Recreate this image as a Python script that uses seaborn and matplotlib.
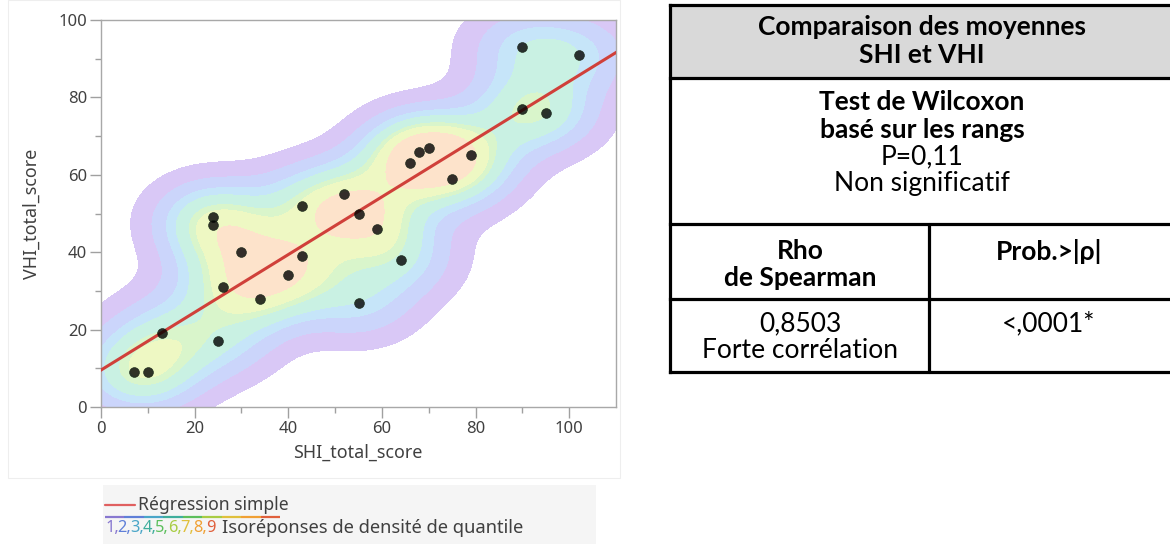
import numpy as np
import pandas as pd
import matplotlib
matplotlib.use("Agg")
import matplotlib.pyplot as plt
from matplotlib.patches import Rectangle
from matplotlib.lines import Line2D
from matplotlib.colors import ListedColormap
import seaborn as sns
import seaborn._statistics as sstat

# ---------------- data ----------------
shi_total = [7, 10, 13, 25, 24, 24, 26, 30, 34, 40, 43, 43, 52, 55, 55, 59, 64,
             66, 68, 70, 75, 79, 90, 90, 95, 102]
vhi_total = [9, 9, 19, 17, 49, 47, 31, 40, 28, 34, 52, 39, 55, 50, 27, 46, 38,
             63, 66, 67, 59, 65, 93, 77, 76, 91]
x_ticks = [0, 20, 40, 60, 80, 100]
y_ticks = [0, 20, 40, 60, 80, 100]
density_levels = [0.03, 0.1, 0.2, 0.3, 0.4, 0.5, 0.6, 0.7, 0.8, 1.0]
legend_digits = ["1", "2", "3", "4", "5", "6", "7", "8", "9"]

table_header = ["Comparaison des moyennes", "SHI et VHI"]
table_test = ["Test de Wilcoxon", "basé sur les rangs"]
table_p = ["P=0,11", "Non significatif"]
table_rho_head = ["Rho", "de Spearman"]
table_prob_head = ["Prob.>|ρ|"]
table_rho_val = ["0,8503", "Forte corrélation"]
table_prob_val = ["<,0001*"]

df = pd.DataFrame({"SHI_total_score": shi_total, "VHI_total_score": vhi_total})


# product-kernel (axis aligned) density, like JMP's nonparametric density
class DiagKDE(sstat.gaussian_kde):
    def _compute_covariance(self):
        super()._compute_covariance()
        cov = np.atleast_2d(self.covariance)
        cov = np.diag(np.diag(cov))
        self.covariance = cov
        for name, val in [("cho_cov", np.linalg.cholesky(cov)),
                          ("_norm_factor", np.sqrt(np.linalg.det(2 * np.pi * cov)))]:
            try:
                setattr(self, name, val)
            except Exception:
                pass
        try:
            self.log_det = 2 * np.log(np.diag(np.linalg.cholesky(cov) * np.sqrt(2 * np.pi))).sum()
        except Exception:
            pass
        try:
            self.inv_cov = np.linalg.inv(cov)
        except Exception:
            pass


sstat.gaussian_kde = DiagKDE

# ---------------- figure ----------------
sns.set_theme(style="white")
plt.rcParams['font.family'] = ['Noto Sans', 'DejaVu Sans']

W, H = 1170, 544
fig = plt.figure(figsize=(W / 100, H / 100), dpi=100)
renderer = fig.canvas.get_renderer()


def fx(px):
    return px / W


def fy(py):
    return 1 - py / H


def fit_width(t, target):
    bb = t.get_window_extent(renderer)
    t.set_fontsize(t.get_fontsize() * target / bb.width)
    return t.get_fontsize()


# faint panel frame
fig.patches.append(Rectangle((fx(8), fy(478)), fx(620) - fx(8), fy(0) - fy(478),
                             transform=fig.transFigure, facecolor="none",
                             edgecolor="#eeeeee", lw=0.8))

ax = fig.add_axes([fx(101), fy(407), fx(616) - fx(101), fy(20) - fy(407)])

band_colors = ["#d9c8f6", "#cbd5fb", "#c6e5f9", "#c9f1e3", "#d9f5cb",
               "#eef8c3", "#fcf3c6", "#fde3cb", "#fcd3d6"]
n_before = len(ax.collections)
sns.kdeplot(data=df, x="SHI_total_score", y="VHI_total_score", fill=True,
            levels=density_levels, cmap=ListedColormap(band_colors), bw_adjust=0.52,
            cut=6, gridsize=250, ax=ax)
for coll in ax.collections[n_before:]:
    try:
        coll.set_facecolor(band_colors)
        coll.set_edgecolor("face")
        coll.set_linewidth(0.6)
    except Exception:
        pass
sns.regplot(data=df, x="SHI_total_score", y="VHI_total_score", ci=None,
            truncate=False, ax=ax,
            scatter_kws=dict(color="black", s=50, edgecolor="#102010", linewidths=0.5, zorder=5),
            line_kws=dict(color="#d0403a", lw=2.2, zorder=4))

ax.set_xlim(0, 110)
ax.set_ylim(0, 100)
ax.set_xticks(x_ticks)
ax.set_yticks(y_ticks)
ax.set_xticks(np.arange(10, 110, 20), minor=True)
ax.set_yticks(np.arange(10, 100, 20), minor=True)
ax.tick_params(axis="both", which="major", direction="out", length=8, width=1,
               color="#a0a0a0", labelsize=12, labelcolor="#404040", pad=2,
               bottom=True, left=True)
ax.tick_params(axis="both", which="minor", direction="out", length=4, width=1,
               color="#a0a0a0", bottom=True, left=True)
for s in ax.spines.values():
    s.set_color("#a8a8a8")
    s.set_linewidth(1)
ax.set_xlabel("")
ax.set_ylabel("")
ax.set_facecolor("white")
xl = fig.text(fx(358), fy(453), "SHI_total_score", color="#404040", fontsize=12,
              ha="center", va="center")
fit_width(xl, 129)
yl = fig.text(fx(32), fy(214), "VHI_total_score", color="#404040", fontsize=12,
              ha="center", va="center", rotation=90)
yl.set_fontsize(xl.get_fontsize())

# ---------------- legend ----------------
fig.patches.append(Rectangle((fx(103), fy(544)), fx(596) - fx(103), fy(485) - fy(544),
                             transform=fig.transFigure, facecolor="#f5f5f5",
                             edgecolor="none"))
fig.lines.append(Line2D([fx(105), fx(135)], [fy(505), fy(505)], transform=fig.transFigure,
                        color="#e06060", lw=1.6))
digit_colors = ["#8878d0", "#5f7fd8", "#4aa6c8", "#3fae9c", "#5cbf5c",
                "#a8cc44", "#e0c03c", "#f0a034", "#e0603c"]
seg = (280 - 105) / len(digit_colors)
for i, c in enumerate(digit_colors):
    fig.lines.append(Line2D([fx(105 + i * seg), fx(105 + (i + 1) * seg)], [fy(517), fy(517)],
                            transform=fig.transFigure, color=c, lw=1.6,
                            solid_capstyle="butt"))
lt = fig.text(fx(138), fy(505), "Régression simple", fontsize=12, color="#404040",
              ha="left", va="center")
fit_width(lt, 150)
step = 12.6
for i, (d, c) in enumerate(zip(legend_digits, digit_colors)):
    xpos = 105 + i * step
    tok = d + ("," if i < len(legend_digits) - 1 else "")
    fig.text(fx(xpos), fy(528), tok, fontsize=11.8, color=c, ha="left", va="center")
it = fig.text(fx(222), fy(528), "Isoréponses de densité de quantile", fontsize=13.2,
              color="#404040", ha="left", va="center")

# ---------------- table ----------------
tx0, tx1 = 670, 1170
ty0, ty1 = 5, 372
tax = fig.add_axes([fx(tx0), fy(ty1), fx(tx1) - fx(tx0), fy(ty0) - fy(ty1)])
tax.set_xlim(tx0, tx1)
tax.set_ylim(ty1, ty0)
tax.axis("off")
lw = 2.3
tax.add_patch(Rectangle((tx0, ty0), tx1 - tx0, 78 - ty0, facecolor="#d9d9d9",
                        edgecolor="none", zorder=0))
tax.plot([tx0, tx1], [ty0, ty0], color="black", lw=lw, solid_capstyle="projecting", clip_on=False)
for yy in [78, 224, 299, ty1]:
    tax.plot([tx0, tx1], [yy, yy], color="black", lw=lw, solid_capstyle="projecting", clip_on=False)
tax.plot([tx0, tx0], [ty0, ty1], color="black", lw=lw, solid_capstyle="projecting", clip_on=False)
tax.plot([929, 929], [224, ty1], color="black", lw=lw, clip_on=False)

tfont = ["Lato", "DejaVu Sans"]
cx_full = 922
cx_left = 800
cx_right = 1049

probe = tax.text(cx_full, 27, table_header[0], ha="center", va="center", fontsize=16,
                 fontweight="bold", family=tfont, color="black")
fs = fit_width(probe, 338)
fs = min(fs, 19)
probe.set_fontsize(fs)


def tline(x, y, s, bold=False):
    tax.text(x, y, s, ha="center", va="center", fontsize=fs,
             fontweight="bold" if bold else "normal", family=tfont, color="black")


tline(cx_full, 55, table_header[1], True)
tline(cx_full, 102, table_test[0], True)
tline(cx_full, 130, table_test[1], True)
tline(cx_full, 157, table_p[0])
tline(cx_full, 184, table_p[1])
tline(cx_left, 251, table_rho_head[0], True)
tline(cx_left, 278, table_rho_head[1], True)
tline(cx_right, 251, table_prob_head[0], True)
tline(cx_left, 324, table_rho_val[0])
tline(cx_left, 351, table_rho_val[1])
tline(cx_right, 324, table_prob_val[0])

fig.savefig("out.png", dpi=100)
